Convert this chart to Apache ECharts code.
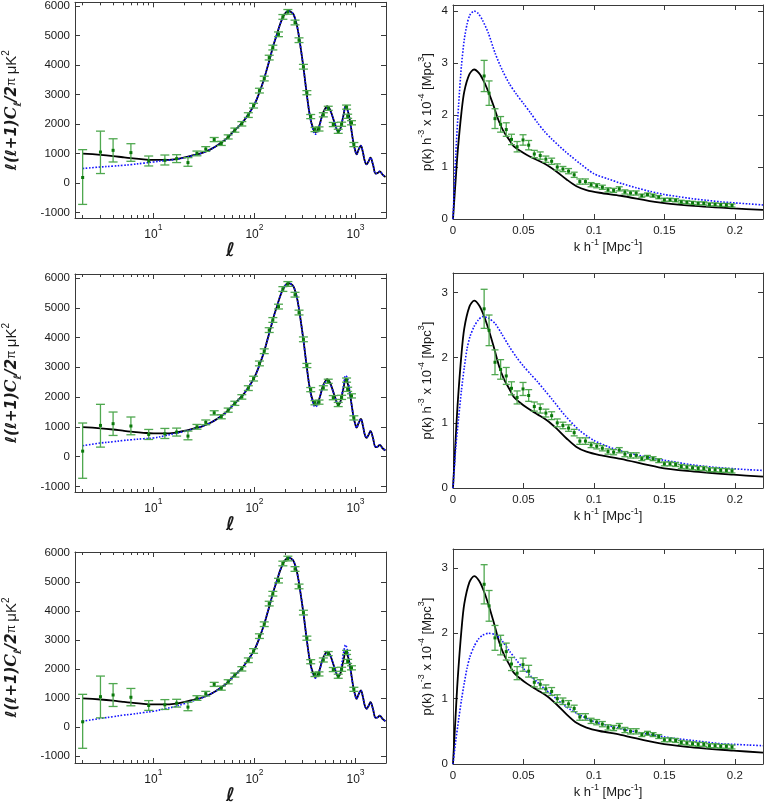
<!DOCTYPE html>
<html>
<head>
<meta charset="utf-8">
<script src="https://cdn.jsdelivr.net/npm/echarts@6/dist/echarts.min.js"></script>
<style>
html, body { margin: 0; padding: 0; background: #fff; }
#chart { width: 766px; height: 807px; }
</style>
</head>
<body>
<div id="chart"></div>
<script>
// ---- left column: CMB temperature spectrum, l(l+1)C_l/2pi in uK^2 ----
const cmbL = [2, 3, 4, 5, 6, 8, 10, 13, 16, 20, 25, 30, 36, 42, 47, 53, 62, 70, 78, 90,
  100, 110, 123, 135, 143, 155, 167, 180, 194, 205, 217, 230, 243, 255, 266, 283, 305, 329, 355, 380,
  397, 415, 430, 450, 473, 500, 525, 550, 580, 625, 674, 700, 728, 765, 796, 830, 859, 900, 953, 1000,
  1023, 1070, 1128, 1180, 1230, 1283, 1340, 1405, 1480, 1585, 1660, 1735, 1850, 1977];
const cmbBest = [990, 950, 910, 870, 840, 800, 780, 780, 800, 860, 940, 1010, 1120, 1250, 1370, 1500, 1746, 1920, 2094, 2400,
  2660, 3000, 3468, 3950, 4255, 4700, 5044, 5400, 5662, 5780, 5831, 5800, 5719, 5520, 5268, 4707, 3918, 3019, 2229, 1850,
  1723, 1750, 1860, 2080, 2344, 2520, 2600, 2530, 2344, 2006, 1756, 1800, 2006, 2350, 2600, 2480, 2300, 1900, 1350, 1050,
  970, 1120, 1263, 1050, 760, 632, 720, 857, 650, 316, 340, 394, 280, 203];
const cmbAlt1 = [487, 541, 570, 595, 620, 670, 710, 760, 790, 850, 935, 1010, 1120, 1250, 1370, 1500, 1746, 1920, 2094, 2400,
  2660, 3000, 3468, 3950, 4255, 4700, 5044, 5400, 5662, 5780, 5831, 5800, 5719, 5520, 5268, 4707, 3918, 3019, 2229, 1800,
  1650, 1690, 1830, 2060, 2330, 2480, 2540, 2490, 2330, 2006, 1756, 1800, 2006, 2350, 2580, 2480, 2300, 1900, 1350, 1050,
  970, 1120, 1263, 1050, 760, 632, 720, 857, 650, 316, 340, 394, 280, 203];
const cmbAlt2 = [365, 456, 500, 540, 565, 600, 624, 700, 770, 840, 930, 1010, 1120, 1250, 1370, 1500, 1746, 1920, 2094, 2400,
  2660, 3000, 3468, 3950, 4255, 4700, 5044, 5400, 5662, 5780, 5831, 5800, 5719, 5520, 5268, 4707, 3918, 3019, 2229, 1800,
  1680, 1710, 1840, 2070, 2330, 2490, 2550, 2500, 2330, 2006, 1756, 1780, 2050, 2450, 2720, 2650, 2400, 1900, 1350, 1050,
  970, 1120, 1263, 1050, 760, 632, 720, 857, 650, 316, 340, 394, 280, 203];
const cmbAlt3 = [205, 297, 360, 410, 440, 500, 544, 630, 700, 800, 910, 1000, 1120, 1250, 1370, 1500, 1746, 1920, 2094, 2400,
  2660, 3000, 3468, 3950, 4255, 4700, 5044, 5400, 5662, 5780, 5831, 5800, 5719, 5520, 5268, 4707, 3918, 3019, 2229, 1800,
  1680, 1710, 1840, 2070, 2330, 2500, 2560, 2510, 2330, 2006, 1760, 1850, 2150, 2600, 2830, 2650, 2350, 1880, 1350, 1050,
  970, 1120, 1263, 1050, 760, 632, 720, 857, 650, 316, 340, 394, 280, 203];
// binned measurements with error bar ends
const wmapL = [2, 3, 4, 6, 9, 13, 17, 22, 27, 33, 40, 47, 55, 64, 75, 87, 98, 112, 125, 140,
  152, 173, 191, 214, 252, 276, 305, 330, 360, 397, 435, 480, 537, 602, 674, 728, 815, 835, 912, 962];
const wmapV = [183, 1047, 1105, 1027, 744, 767, 824, 689, 1000, 1150, 1470, 1340, 1560, 1790, 2006, 2300, 2620, 3130, 3540, 4250,
  4590, 5040, 5630, 5800, 5440, 4840, 3940, 3060, 2250, 1810, 1830, 2310, 2530, 1980, 1750, 1990, 2570, 2260, 2040, 1300];
const wmapLo = [-729, 318, 710, 733, 575, 608, 690, 564, 920, 1070, 1400, 1270, 1490, 1720, 1930, 2220, 2540, 3050, 3460, 4170,
  4510, 4960, 5550, 5720, 5360, 4760, 3860, 2990, 2180, 1740, 1760, 2240, 2460, 1910, 1680, 1920, 2500, 2190, 1970, 1230];
const wmapHi = [1128, 1756, 1497, 1330, 912, 946, 957, 857, 1080, 1230, 1540, 1410, 1630, 1860, 2080, 2380, 2700, 3210, 3620, 4330,
  4670, 5120, 5710, 5880, 5520, 4920, 4020, 3130, 2320, 1880, 1900, 2380, 2600, 2050, 1820, 2060, 2640, 2330, 2110, 1370];
const lTicks = [10, 100, 1000];
const clTicks = [-1000, 0, 1000, 2000, 3000, 4000, 5000, 6000];

// ---- right column: matter power spectrum p(k) h^-3 x 10^-4 ----
const pkK = [0, 0.002, 0.0034, 0.006, 0.008, 0.0116, 0.015, 0.0186, 0.022, 0.0256, 0.029, 0.0327, 0.036, 0.04, 0.043,
  0.047, 0.0525, 0.06, 0.0666, 0.0736, 0.0806, 0.0876, 0.0947, 0.104, 0.119, 0.146, 0.166, 0.199, 0.22];
const pkBest = [0, 0.8, 1.32, 2.05, 2.45, 2.78, 2.875, 2.8, 2.64, 2.41, 2.16, 1.87, 1.68, 1.52, 1.4,
  1.32, 1.23, 1.13, 1.04, 0.91, 0.76, 0.63, 0.557, 0.505, 0.447, 0.318, 0.263, 0.205, 0.175];
const pkKalt = [0, 0.002, 0.004, 0.006, 0.008, 0.010, 0.012, 0.015, 0.018, 0.021, 0.025, 0.030, 0.035, 0.040, 0.045,
  0.050, 0.055, 0.060, 0.065, 0.070, 0.080, 0.090, 0.100, 0.110, 0.120, 0.130, 0.140, 0.150, 0.160, 0.170,
  0.180, 0.190, 0.200, 0.210, 0.220];
const pkAlt1 = [0, 1.25, 2.2, 2.95, 3.45, 3.75, 3.92, 4.0, 3.95, 3.82, 3.58, 3.18, 2.86, 2.6, 2.4,
  2.22, 2.04, 1.85, 1.68, 1.54, 1.29, 1.07, 0.87, 0.77, 0.68, 0.6, 0.53, 0.47, 0.43, 0.39,
  0.36, 0.33, 0.31, 0.29, 0.27];
const pkAlt2 = [0, 0.63, 1.08, 1.5, 1.85, 2.14, 2.32, 2.48, 2.58, 2.63, 2.61, 2.52, 2.35, 2.17, 2.01,
  1.87, 1.75, 1.63, 1.5, 1.37, 1.1, 0.88, 0.73, 0.635, 0.565, 0.51, 0.465, 0.425, 0.39, 0.355,
  0.33, 0.31, 0.295, 0.28, 0.27];
const pkAlt3 = [0, 0.36, 0.68, 0.98, 1.24, 1.47, 1.64, 1.8, 1.91, 1.97, 2.0, 1.98, 1.88, 1.73, 1.59,
  1.46, 1.35, 1.25, 1.15, 1.06, 0.88, 0.75, 0.65, 0.59, 0.535, 0.49, 0.45, 0.415, 0.385, 0.36,
  0.335, 0.31, 0.3, 0.29, 0.28];
const sdssK = [0.0221, 0.0256, 0.0298, 0.0338, 0.0378, 0.0415, 0.0455, 0.0497, 0.0537, 0.0577, 0.0619, 0.0659, 0.070, 0.074, 0.078,
  0.082, 0.086, 0.090, 0.094, 0.098, 0.102, 0.106, 0.110, 0.114, 0.118, 0.122, 0.126, 0.130, 0.134, 0.138,
  0.142, 0.146, 0.150, 0.154, 0.158, 0.162, 0.166, 0.170, 0.174, 0.178, 0.182, 0.186, 0.190, 0.194, 0.198];
const sdssV = [2.75, 2.42, 1.93, 1.82, 1.72, 1.53, 1.39, 1.52, 1.42, 1.25, 1.22, 1.15, 1.11, 1.0, 0.96,
  0.92, 0.85, 0.72, 0.72, 0.66, 0.64, 0.61, 0.56, 0.55, 0.58, 0.52, 0.5, 0.5, 0.45, 0.47,
  0.45, 0.42, 0.37, 0.37, 0.36, 0.33, 0.32, 0.31, 0.3, 0.3, 0.28, 0.28, 0.27, 0.27, 0.26];
const sdssE = [0.3, 0.235, 0.19, 0.15, 0.13, 0.1, 0.1, 0.1, 0.09, 0.07, 0.07, 0.06, 0.06, 0.06, 0.05,
  0.05, 0.05, 0.05, 0.05, 0.04, 0.04, 0.04, 0.04, 0.04, 0.04, 0.04, 0.04, 0.04, 0.03, 0.03,
  0.03, 0.03, 0.03, 0.03, 0.03, 0.03, 0.03, 0.03, 0.03, 0.03, 0.03, 0.03, 0.03, 0.03, 0.03];
const kTicks = [0, 0.05, 0.1, 0.15, 0.2];
const pTicks = [0, 1, 2, 3, 4];

const cmbAlts = [cmbAlt1, cmbAlt2, cmbAlt3];
const pkAlts = [pkAlt1, pkAlt2, pkAlt3];

// layout of the six boxes
const leftBoxes = [{ top: 2, height: 216 }, { top: 274, height: 218 }, { top: 552, height: 214 }];
const rightBoxes = [{ top: 5, height: 214 }, { top: 273, height: 215 }, { top: 549, height: 215 }];
const clRange = [[-1190, 6125], [-1190, 6135], [-1235, 6025]];
const pkMax = [4.115, 3.3, 3.29];

const FONT = 'Liberation Sans, Arial, sans-serif';
const FRAME = '#3a3a3a';
const TXT = '#1a1a1a';
const BAR = '#4fa84f';
const DOT = '#0a780a';

const pairs = (xs, ys) => xs.map((x, i) => [x, ys[i]]);
const onTick = (ticks, v) => ticks.some(t => Math.abs(t - v) < 1e-9);

function errorBars(capHalf) {
  return function (params, api) {
    const x = api.value(0);
    const c = api.coord([x, api.value(1)]);
    const lo = api.coord([x, api.value(2)]);
    const hi = api.coord([x, api.value(3)]);
    const ls = { stroke: BAR, lineWidth: 1.3 };
    return {
      type: 'group',
      children: [
        { type: 'line', shape: { x1: c[0], y1: lo[1], x2: c[0], y2: hi[1] }, style: ls },
        { type: 'line', shape: { x1: c[0] - capHalf, y1: lo[1], x2: c[0] + capHalf, y2: lo[1] }, style: ls },
        { type: 'line', shape: { x1: c[0] - capHalf, y1: hi[1], x2: c[0] + capHalf, y2: hi[1] }, style: ls },
        { type: 'rect', shape: { x: c[0] - 1.5, y: c[1] - 1.5, width: 3, height: 3 }, style: { fill: DOT } }
      ]
    };
  };
}

const supRich = {
  r: { fontFamily: FONT, fontSize: 13, color: TXT, lineHeight: 20, verticalAlign: 'middle' },
  sup: { fontFamily: FONT, fontSize: 9, color: TXT, lineHeight: 20, verticalAlign: 'top' }
};

function frameAxis(extra) {
  return Object.assign({
    axisLine: { show: true, onZero: false, lineStyle: { color: FRAME, width: 1 } },
    axisTick: { show: true, inside: true, length: 5, lineStyle: { color: FRAME } },
    splitLine: { show: false },
    axisLabel: { show: false }
  }, extra);
}

const grid = [], xAxis = [], yAxis = [], series = [];

for (let r = 0; r < 3; r++) {
  // ---------- left panel ----------
  let gi = grid.length;
  grid.push({ left: 74, width: 312, top: leftBoxes[r].top, height: leftBoxes[r].height });
  const logBase = {
    gridIndex: gi, type: 'log', logBase: 10, min: 1.68, max: 2000,
    minorTick: { show: true, splitNumber: 9, length: 3, lineStyle: { color: FRAME } },
    minorSplitLine: { show: false }
  };
  xAxis.push(frameAxis(Object.assign({}, logBase, {
    position: 'bottom',
    axisLabel: {
      show: true, margin: 5,
      formatter: v => onTick(lTicks, v) ? '{b|10}{s|' + Math.round(Math.log10(v)) + '}' : '',
      rich: {
        b: { fontFamily: FONT, fontSize: 12, color: TXT, lineHeight: 18, verticalAlign: 'bottom' },
        s: { fontFamily: FONT, fontSize: 8.5, color: TXT, lineHeight: 18, verticalAlign: 'top' }
      }
    },
    name: '{i|ℓ}', nameLocation: 'middle', nameGap: 24,
    nameTextStyle: { rich: { i: { fontFamily: 'DejaVu Sans', fontStyle: 'italic', fontWeight: 'bold', fontSize: 19, color: TXT } } }
  })));
  xAxis.push(frameAxis(Object.assign({}, logBase, { position: 'top' })));
  const clBase = { gridIndex: gi, type: 'value', min: clRange[r][0], max: clRange[r][1], minInterval: 1000, maxInterval: 1000 };
  yAxis.push(frameAxis(Object.assign({}, clBase, {
    position: 'left',
    axisLabel: {
      show: true, margin: 5, fontFamily: FONT, fontSize: 11.5, color: TXT,
      formatter: v => onTick(clTicks, v) ? String(v) : ''
    },
    name: '{i|ℓ(ℓ+1)}{c|C}{sub|ℓ}{i|/2}{p|π }{r|μK}{sup|2}',
    nameLocation: 'middle', nameGap: 52,
    nameTextStyle: {
      rich: {
        i: { fontFamily: 'DejaVu Sans', fontStyle: 'italic', fontWeight: 'bold', fontSize: 15, color: TXT, lineHeight: 22 },
        c: { fontFamily: 'DejaVu Serif', fontStyle: 'italic', fontWeight: 'bold', fontSize: 16, color: TXT, lineHeight: 22 },
        sub: { fontFamily: 'DejaVu Sans', fontStyle: 'italic', fontWeight: 'bold', fontSize: 10, color: TXT, lineHeight: 22, verticalAlign: 'bottom' },
        p: { fontFamily: FONT, fontSize: 12, color: TXT, lineHeight: 22 },
        r: { fontFamily: FONT, fontSize: 15, color: TXT, lineHeight: 22 },
        sup: { fontFamily: FONT, fontSize: 10, color: TXT, lineHeight: 22, verticalAlign: 'top' }
      }
    }
  })));
  yAxis.push(frameAxis(Object.assign({}, clBase, { position: 'right' })));
  const lx = 2 * gi, ly = 2 * gi;
  series.push({
    type: 'line', xAxisIndex: lx, yAxisIndex: ly, data: pairs(cmbL, cmbBest),
    showSymbol: false, smooth: 0.4, lineStyle: { color: '#000', width: 1.8 }, z: 3, silent: true
  });
  series.push({
    type: 'line', xAxisIndex: lx, yAxisIndex: ly, data: pairs(cmbL, cmbAlts[r]),
    showSymbol: false, smooth: 0.4, lineStyle: { color: '#1515ff', width: 1.6, type: 'dotted' }, z: 4, silent: true
  });
  series.push({
    type: 'custom', xAxisIndex: lx, yAxisIndex: ly, renderItem: errorBars(4.5),
    encode: { x: 0, y: 1 }, z: 5, silent: true,
    data: wmapL.map((l, i) => [l, wmapV[i], wmapLo[i], wmapHi[i]])
  });

  // ---------- right panel ----------
  gi = grid.length;
  grid.push({ left: 453, width: 312, top: rightBoxes[r].top, height: rightBoxes[r].height });
  const kBase = { gridIndex: gi, type: 'value', min: 0, max: 0.22, interval: 0.05 };
  xAxis.push(frameAxis(Object.assign({}, kBase, {
    position: 'bottom',
    axisLabel: {
      show: true, margin: 6, fontFamily: FONT, fontSize: 11.5, color: TXT,
      formatter: v => onTick(kTicks, v) ? String(+v.toFixed(2)) : ''
    },
    name: '{r|k h}{sup|-1}{r| [Mpc}{sup|-1}{r|]}', nameLocation: 'middle', nameGap: 18,
    nameTextStyle: { rich: supRich }
  })));
  xAxis.push(frameAxis(Object.assign({}, kBase, { position: 'top' })));
  const pBase = { gridIndex: gi, type: 'value', min: 0, max: pkMax[r], interval: 1 };
  yAxis.push(frameAxis(Object.assign({}, pBase, {
    position: 'left',
    axisLabel: {
      show: true, margin: 5, fontFamily: FONT, fontSize: 11.5, color: TXT,
      formatter: v => onTick(pTicks, v) ? String(v) : ''
    },
    name: '{r|p(k) h}{sup|-3}{r| x 10}{sup|-4}{r| [Mpc}{sup|3}{r|]}', nameLocation: 'middle', nameGap: 16,
    nameTextStyle: { rich: supRich }
  })));
  yAxis.push(frameAxis(Object.assign({}, pBase, { position: 'right' })));
  const rx = 2 * gi, ry = 2 * gi;
  series.push({
    type: 'line', xAxisIndex: rx, yAxisIndex: ry, data: pairs(pkK, pkBest),
    showSymbol: false, smooth: 0.3, lineStyle: { color: '#000', width: 1.8 }, z: 3, silent: true
  });
  series.push({
    type: 'line', xAxisIndex: rx, yAxisIndex: ry, data: pairs(pkKalt, pkAlts[r]),
    showSymbol: false, smooth: 0.25, lineStyle: { color: '#1515ff', width: 1.6, type: 'dotted' }, z: 4, silent: true
  });
  series.push({
    type: 'custom', xAxisIndex: rx, yAxisIndex: ry, renderItem: errorBars(3.5),
    encode: { x: 0, y: 1 }, z: 5, silent: true,
    data: sdssK.map((k, i) => [k, sdssV[i], sdssV[i] - sdssE[i], sdssV[i] + sdssE[i]])
  });
}

const chart = echarts.init(document.getElementById('chart'));
chart.setOption({
  animation: false,
  backgroundColor: '#fff',
  grid: grid,
  xAxis: xAxis,
  yAxis: yAxis,
  series: series
});
</script>
</body>
</html>
